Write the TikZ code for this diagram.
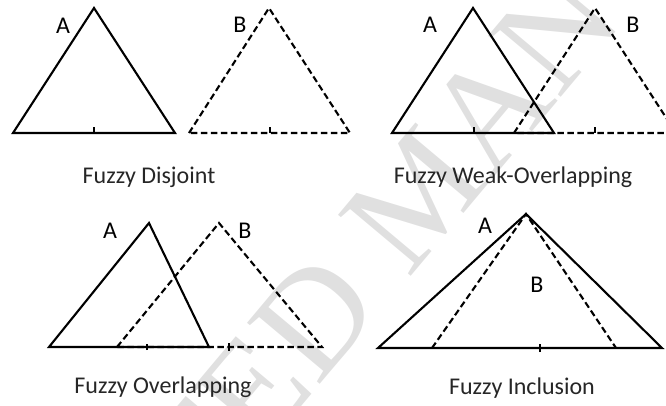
\documentclass[tikz,border=0pt]{standalone}
\usepackage{fontspec}
\setmainfont{Carlito}
\newfontfamily\wmfont{Liberation Serif}
\begin{document}
\begin{tikzpicture}[x=1pt,y=-1pt,
  fuzzyA/.style={draw=black,line width=2.1pt,line join=miter},
  fuzzyB/.style={draw=black,line width=2.1pt,dash pattern=on 6.5pt off 3.5pt},
  tickmark/.style={draw=black,line width=1.8pt},
  setlabel/.style={font=\fontsize{24}{26}\selectfont,anchor=base,inner sep=0pt},
  caption/.style={font=\fontsize{24}{26}\selectfont,anchor=base,inner sep=0pt,text=black!85}]
\useasboundingbox (0,0) rectangle (666,405);
\begin{scope}
\clip (0,0) rectangle (666,405);
% faint diagonal watermark
\node[font=\wmfont\fontsize{145}{150}\selectfont,text=black!12,rotate=50,inner sep=0pt]
  (wm) at (420,192) {ACCEPTED MANUSCRIPT};

% Fuzzy Disjoint
\coordinate (d1l) at (13,133);  \coordinate (d1t) at (94,8);  \coordinate (d1r) at (175,133);
\coordinate (d2l) at (189,133); \coordinate (d2t) at (269,8); \coordinate (d2r) at (350,133);
\draw[fuzzyB] (d2l) -- (d2t) -- (d2r) -- cycle;
\draw[fuzzyA] (d1l) -- (d1t) -- (d1r) -- cycle;
\draw[tickmark] (94,133) -- (94,127);
\draw[tickmark] (270,133) -- (270,127);
\node[setlabel] (dA) at (63,33) {A};
\node[setlabel] (dB) at (240,32) {B};
\node[caption] (dcap) at (149,183) {Fuzzy Disjoint};

% Fuzzy Weak-Overlapping
\coordinate (w1l) at (392,133); \coordinate (w1t) at (473,8); \coordinate (w1r) at (554,133);
\coordinate (w2l) at (514,133); \coordinate (w2t) at (595,8); \coordinate (w2r) at (676,133);
\draw[fuzzyB] (w2l) -- (w2t) -- (w2r) -- cycle;
\draw[fuzzyA] (w1l) -- (w1t) -- (w1r) -- cycle;
\draw[tickmark] (474,133) -- (474,127);
\draw[tickmark] (595,133) -- (595,127);
\node[setlabel] (wA) at (430,32) {A};
\node[setlabel] (wB) at (633,32) {B};
\node[caption] (wcap) at (513,183) {Fuzzy Weak-Overlapping};

% Fuzzy Overlapping
\coordinate (o1l) at (49,347);  \coordinate (o1t) at (149,223); \coordinate (o1r) at (209,347);
\coordinate (o2l) at (117,347); \coordinate (o2t) at (219,223); \coordinate (o2r) at (322,347);
\draw[fuzzyB] (o2l) -- (o2t) -- (o2r) -- cycle;
\draw[fuzzyA] (o1l) -- (o1t) -- (o1r) -- cycle;
\draw[tickmark] (147,350) -- (147,344);
\draw[tickmark] (229,351) -- (229,343);
\node[setlabel] (oA) at (110,238) {A};
\node[setlabel] (oB) at (245,238) {B};
\node[caption] (ocap) at (163,393) {Fuzzy Overlapping};

% Fuzzy Inclusion
\coordinate (i1l) at (378,348); \coordinate (i1t) at (526,214); \coordinate (i1r) at (662,348);
\coordinate (i2l) at (432,348); \coordinate (i2r) at (616,348);
\draw[fuzzyB] (i2l) -- (i1t) -- (i2r);
\draw[fuzzyA] (i1l) -- (i1t) -- (i1r) -- cycle;
\draw[tickmark] (540,352) -- (540,344);
\node[setlabel] (iA) at (485,233) {A};
\node[setlabel] (iB) at (537,292) {B};
\node[caption] (icap) at (522,394) {Fuzzy Inclusion};
\end{scope}
\end{tikzpicture}
\end{document}
